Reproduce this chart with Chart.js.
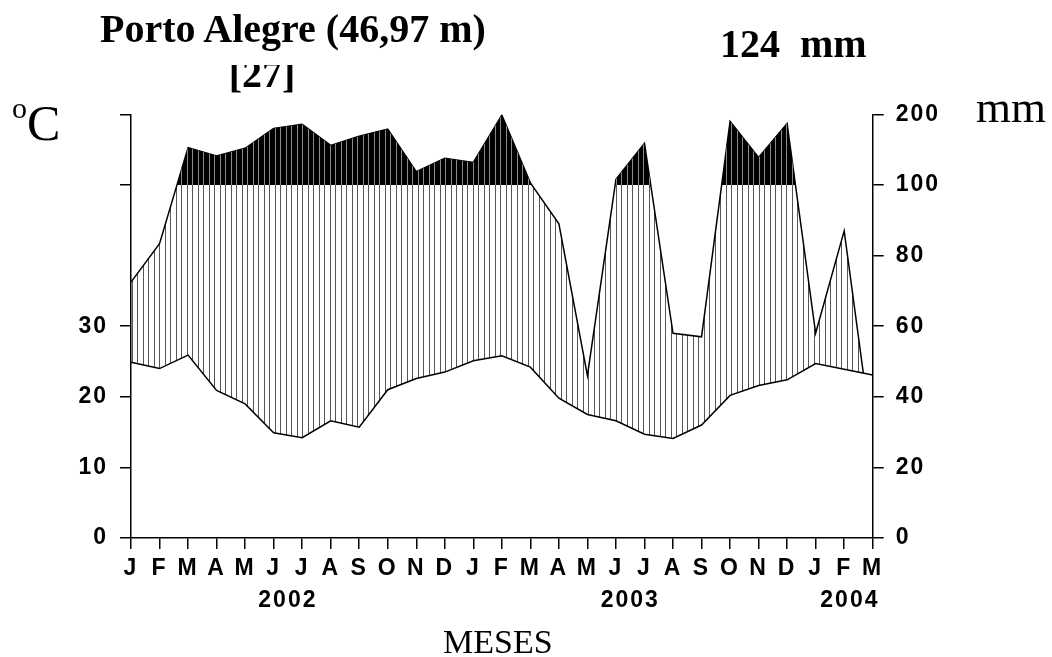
<!DOCTYPE html>
<html><head><meta charset="utf-8">
<script src="https://cdn.jsdelivr.net/npm/chart.js@4/dist/chart.umd.min.js"></script>
<style>
html,body{margin:0;padding:0;background:#fff;}
#wrap{position:relative;width:1052px;height:657px;overflow:hidden;background:#fff;}
#c{position:absolute;left:0;top:0;}
.t{position:absolute;white-space:pre;font-family:"Liberation Serif","Times New Roman",serif;color:#000;line-height:1;}
.clip{position:absolute;overflow:hidden;}
</style></head><body>
<div id="wrap">
<canvas id="c" width="1052" height="657"></canvas>
<div class="t" style="left:100px;top:9px;font-size:40px;font-weight:bold;">Porto Alegre (46,97 m)</div>
<div class="clip" style="left:162px;top:65px;width:200px;height:40px;">
  <div class="t" style="left:0;top:-11px;width:200px;text-align:center;font-size:40px;font-weight:bold;">[27]</div>
</div>
<div class="t" style="left:720px;top:24px;font-size:40px;font-weight:bold;">124  mm</div>
<div class="t" style="left:976px;top:85px;font-size:45px;">mm</div>
<div class="t" style="left:12px;top:98px;font-size:50px;"><span style="font-size:30px;position:relative;top:-22px;">o</span>C</div>
<div class="t" style="left:443px;top:625px;font-size:34px;">MESES</div>
</div>
<script>
// ---- data ----
const months = ['J','F','M','A','M','J','J','A','S','O','N','D','J','F','M','A','M','J','J','A','S','O','N','D','J','F','M'];
const years = ['2002','2003','2004'];
const yearAt = [5.5, 17.5, 25.2];           // month index under which each year label sits
const temperature = [24.9,24.0,25.9,20.9,19.0,14.9,14.2,16.6,15.7,21.0,22.6,23.5,25.1,25.8,24.2,19.8,17.5,16.6,14.7,14.1,16.0,20.2,21.6,22.4,24.7,23.9,23.1];   // °C
const precipitation = [72.5,83.4,153,141,152,180,186,156,169,179,119,138,132,199,103,89,46,108,159,58,57,190,139,187,58,87,27]; // mm
const tempTicks = [0,10,20,30];             // labelled °C ticks
const tempBlankTicks = [100,200];           // unlabelled left ticks (mm positions)
const precTicks = [0,20,40,60,80,100,200];  // mm ticks

// Walter-Lieth scaling: 10 °C = 20 mm, above 100 mm the scale is compressed 1:5
const precV = mm => mm <= 100 ? mm : 100 + (mm - 100) / 5;
const tempV = t => 2 * t;

function makePattern(bg, line){
  const p = document.createElement('canvas'); p.width = 11; p.height = 4;
  const g = p.getContext('2d');
  if (bg){ g.fillStyle = bg; g.fillRect(0,0,11,4); }
  g.fillStyle = line; g.fillRect(0,0,1,4); g.fillRect(5,0,1,4);
  return g.createPattern(p,'repeat');
}
const hatch = makePattern(null, '#555');
const blackHatch = makePattern('#000', '#8a8a8a');

const tickFont = {family:'"Liberation Sans", Arial, sans-serif', size:23, weight:'bold'};
const spacing = {
  id:'spacing',
  beforeLayout(chart){ chart.ctx.letterSpacing = '2px'; },
  beforeDraw(chart){ chart.ctx.letterSpacing = '2px'; }
};
const clipAboveTemp = {
  id:'clipAboveTemp',
  beforeDatasetDraw(chart,args){
    if (args.index !== 2) return;
    const pts = chart.getDatasetMeta(0).data, a = chart.chartArea, c = chart.ctx;
    c.save(); c.beginPath();
    c.moveTo(a.left-5, pts[0].y);
    pts.forEach(p => c.lineTo(p.x, p.y));
    c.lineTo(a.right+5, pts[pts.length-1].y);
    c.lineTo(a.right+5, 0); c.lineTo(a.left-5, 0); c.closePath(); c.clip();
  },
  afterDatasetDraw(chart,args){ if (args.index === 2) chart.ctx.restore(); }
};

const axisGrid = {display:true, drawOnChartArea:false, drawTicks:true, tickLength:11, color:'#000', lineWidth:1.5};
const axisBorder = {display:true, color:'#000', width:1.5};

new Chart(document.getElementById('c').getContext('2d'), {
  type:'line',
  data:{
    labels: months,
    datasets:[
      {label:'Temperatura', data: temperature.map(tempV), borderColor:'#000', borderWidth:1.5, pointRadius:0, fill:false, order:0, tension:0},
      {label:'Excedente', data: precipitation.map(precV), borderColor:'rgba(0,0,0,0)', borderWidth:1, pointRadius:0,
        fill:{target:{value:100}, above:blackHatch, below:'rgba(0,0,0,0)'}, order:1, tension:0},
      {label:'Precipitação', data: precipitation.map(precV), borderColor:'#000', borderWidth:1.5, pointRadius:0,
        fill:{target:0, above:hatch, below:'rgba(0,0,0,0)'}, order:2, tension:0}
    ]
  },
  options:{
    responsive:false, animation:false, devicePixelRatio:1,
    layout:{padding:{top:114.4, left:0, right:0, bottom:33}},
    plugins:{legend:{display:false}, tooltip:{enabled:false}},
    scales:{
      x:{type:'category', position:'bottom', offset:false, grid:axisGrid, border:axisBorder,
         ticks:{font:tickFont, color:'#000', padding:6, autoSkip:false, maxRotation:0},
         afterFit: s => { s.height = 46; }},
      xYear:{type:'linear', position:'bottom', min:0, max:months.length-1, grid:{display:false, drawTicks:false}, border:{display:false},
         ticks:{font:tickFont, color:'#000', padding:3, callback:(v,i)=>years[i]},
         afterBuildTicks: s => { s.ticks = yearAt.map(v => ({value:v})); },
         afterFit: s => { s.height = 40; }},
      y:{position:'left', min:0, max:120, grid:axisGrid, border:axisBorder,
         ticks:{font:tickFont, color:'#000', padding:12, callback:v => v <= 60 ? String(v/2) : ''},
         afterBuildTicks: s => { s.ticks = tempTicks.map(tempV).concat(tempBlankTicks.map(precV)).map(v => ({value:v})); },
         afterFit: s => { s.width = 131; }},
      y2:{position:'right', min:0, max:120, grid:axisGrid, border:axisBorder,
         ticks:{font:tickFont, color:'#000', padding:12, callback:v => String(precTicks[[0,20,40,60,80,100,120].indexOf(v)])},
         afterBuildTicks: s => { s.ticks = precTicks.map(precV).map(v => ({value:v})); },
         afterFit: s => { s.width = 1052 - 872.7; }}
    }
  },
  plugins:[spacing, clipAboveTemp]
});
</script>
</body></html>
